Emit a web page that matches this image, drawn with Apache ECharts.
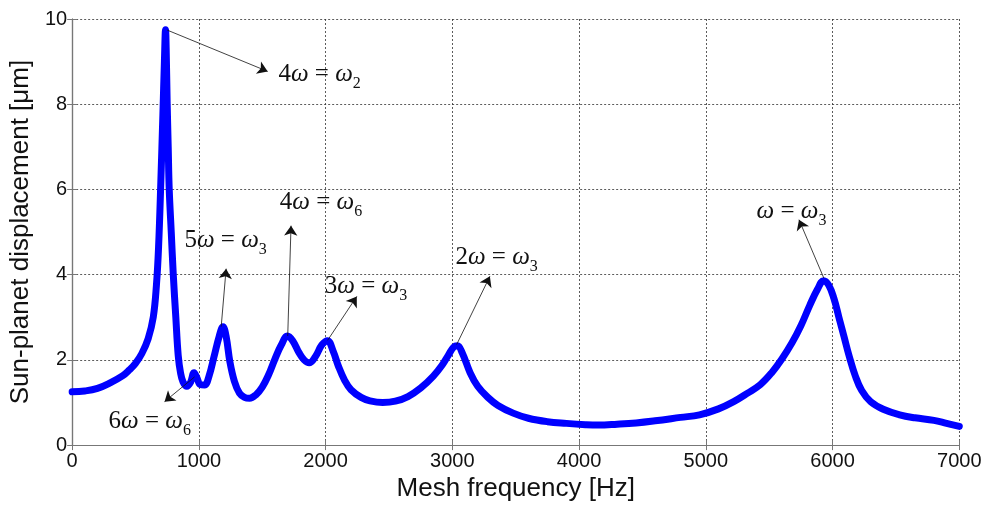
<!DOCTYPE html>
<html><head><meta charset="utf-8">
<script src="https://cdn.jsdelivr.net/npm/echarts@6/dist/echarts.min.js"></script>
<style>html,body{margin:0;padding:0;background:#fff}#c{width:990px;height:507px}</style>
</head><body><div id="c"></div>
<script>
// Mesh frequency [Hz]
const freq = [0,100,200,300,400,450,500,550,600,640,665,682,700,716,728,737,742,750,758,766,782,798,818,837,855,875,905,935,962,985,1010,1045,1080,1120,1160,1190,1215,1245,1280,1320,1360,1400,1450,1500,1550,1600,1650,1700,1740,1790,1830,1870,1920,1970,2015,2060,2100,2150,2200,2280,2350,2450,2550,2650,2750,2850,2920,2970,3010,3040,3080,3140,3200,3280,3360,3480,3600,3750,3900,4050,4150,4300,4450,4600,4800,4950,5100,5220,5330,5430,5520,5600,5680,5750,5820,5880,5930,5970,6010,6050,6090,6130,6180,6230,6300,6400,6530,6650,6800,6900,7000];
// Sun-planet displacement [μm]
const disp = [1.25,1.27,1.33,1.46,1.63,1.76,1.92,2.15,2.5,3.0,3.75,4.65,6.2,7.76,9.0,9.75,9.3,8.0,7.0,6.0,5.0,4.0,3.0,2.1,1.7,1.48,1.38,1.48,1.70,1.58,1.42,1.41,1.62,2.08,2.55,2.78,2.55,1.95,1.5,1.22,1.12,1.10,1.18,1.36,1.65,2.02,2.35,2.56,2.45,2.17,2.0,1.93,2.08,2.35,2.45,2.2,1.86,1.52,1.30,1.12,1.04,1.0,1.03,1.14,1.34,1.62,1.88,2.12,2.3,2.33,2.15,1.7,1.38,1.12,0.93,0.75,0.63,0.55,0.51,0.48,0.47,0.49,0.52,0.57,0.65,0.71,0.85,1.02,1.22,1.42,1.70,2.02,2.40,2.80,3.28,3.65,3.86,3.75,3.45,3.0,2.55,2.1,1.62,1.28,1.02,0.84,0.71,0.64,0.58,0.51,0.44];

// Annotation texts: coefficient and subscript of "kω = ω_n"
const annCoef = ['4','5','4','3','2','','6'];
const annSub  = ['2','3','6','3','3','3','6'];
// arrow tails / heads and label anchors, in data coordinates [Hz, μm]
const annTail = [[750,9.74],[1176,2.78],[1701,2.56],[2016,2.46],[3034,2.36],[5931,3.92],[966,1.60]];
const annHead = [[1543,8.77],[1215,4.14],[1727,5.15],[2246,3.49],[3296,3.96],[5735,5.29],[729,1.02]];
const annText = [[1624,8.69],[882,4.79],[1635,5.68],[1989,3.71],[3020,4.39],[5396,5.47],[283,0.54]];

const chart = echarts.init(document.getElementById('c'), null, {renderer:'canvas'});
const serif = 'Liberation Serif, Times New Roman, serif';
const rich = {
  n: {fontFamily: serif, fontSize: 25, lineHeight: 26, color: '#111', verticalAlign: 'top'},
  w: {fontFamily: serif, fontStyle: 'italic', fontSize: 25, lineHeight: 26, color: '#111', verticalAlign: 'top'},
  s: {fontFamily: serif, fontSize: 16, lineHeight: 16, color: '#111', verticalAlign: 'top', padding: [14,0,0,0]}
};
function annLabel(i){
  return (annCoef[i] ? '{n|' + annCoef[i] + '}' : '') + '{w|ω}{n| = }{w|ω}{s|' + annSub[i] + '}';
}
const axisColor = '#777';
const sans = 'Liberation Sans, Arial, sans-serif';
const plain = v => String(v);
const option = {
  animation: false,
  backgroundColor: '#fff',
  grid: {left: 70.7, right: 30.7, top: 19, bottom: 60, containLabel: false},
  xAxis: [{
    type: 'value', min: 0, max: 7000, interval: 1000, position: 'bottom',
    name: 'Mesh frequency [Hz]', nameLocation: 'middle', nameGap: 29,
    nameTextStyle: {fontFamily: sans, fontSize: 26, color: '#111'},
    axisLine: {show: true, lineStyle: {color: axisColor, width: 1.2}},
    axisTick: {show: true, inside: true, length: 5, lineStyle: {color: axisColor}},
    axisLabel: {fontFamily: sans, fontSize: 20, color: '#111', margin: 6, formatter: plain},
    splitLine: {show: true, lineStyle: {color: '#333', width: 0.8, type: [2,2]}}
  },{
    type: 'value', min: 0, max: 7000, interval: 1000, position: 'top',
    axisLine: {show: true, lineStyle: {color: axisColor, width: 1.2}},
    axisTick: {show: true, inside: true, length: 5, lineStyle: {color: axisColor}},
    axisLabel: {show: false}, splitLine: {show: false}
  }],
  yAxis: [{
    type: 'value', min: 0, max: 10, interval: 2, position: 'left',
    name: 'Sun-planet displacement [μm]', nameLocation: 'middle', nameGap: 37, nameRotate: 90,
    nameTextStyle: {fontFamily: sans, fontSize: 26, color: '#111'},
    axisLine: {show: true, lineStyle: {color: axisColor, width: 1.2}},
    axisTick: {show: true, inside: true, length: 5, lineStyle: {color: axisColor}},
    axisLabel: {fontFamily: sans, fontSize: 20, color: '#111', margin: 5, formatter: plain},
    splitLine: {show: true, lineStyle: {color: '#333', width: 0.8, type: [2,2]}}
  },{
    type: 'value', min: 0, max: 10, interval: 2, position: 'right',
    axisLine: {show: true, lineStyle: {color: axisColor, width: 1.2}},
    axisTick: {show: true, inside: true, length: 5, lineStyle: {color: axisColor}},
    axisLabel: {show: false}, splitLine: {show: false}
  }],
  series: [{
    type: 'line', xAxisIndex: 0, yAxisIndex: 0,
    data: freq.map((f, i) => [f, disp[i]]),
    showSymbol: false, symbol: 'none', smooth: 0.4,
    lineStyle: {color: '#0000ff', width: 7, cap: 'round', join: 'round'},
    z: 3,
    markLine: {
      silent: true, animation: false,
      symbol: ['none', 'arrow'], symbolSize: 10,
      lineStyle: {color: '#111', width: 0.8, type: 'solid'},
      itemStyle: {color: '#111'},
      label: {show: false},
      emphasis: {disabled: true},
      data: annTail.map((t, i) => [{coord: t}, {coord: annHead[i]}])
    },
    markPoint: {
      silent: true, animation: false,
      symbol: 'circle', symbolSize: 1,
      itemStyle: {color: 'rgba(0,0,0,0)'},
      label: {show: true, position: 'right', distance: 0, rich: rich},
      data: annText.map((p, i) => ({coord: p, label: {formatter: annLabel(i)}}))
    }
  }]
};
chart.setOption(option);
</script>
</body></html>
